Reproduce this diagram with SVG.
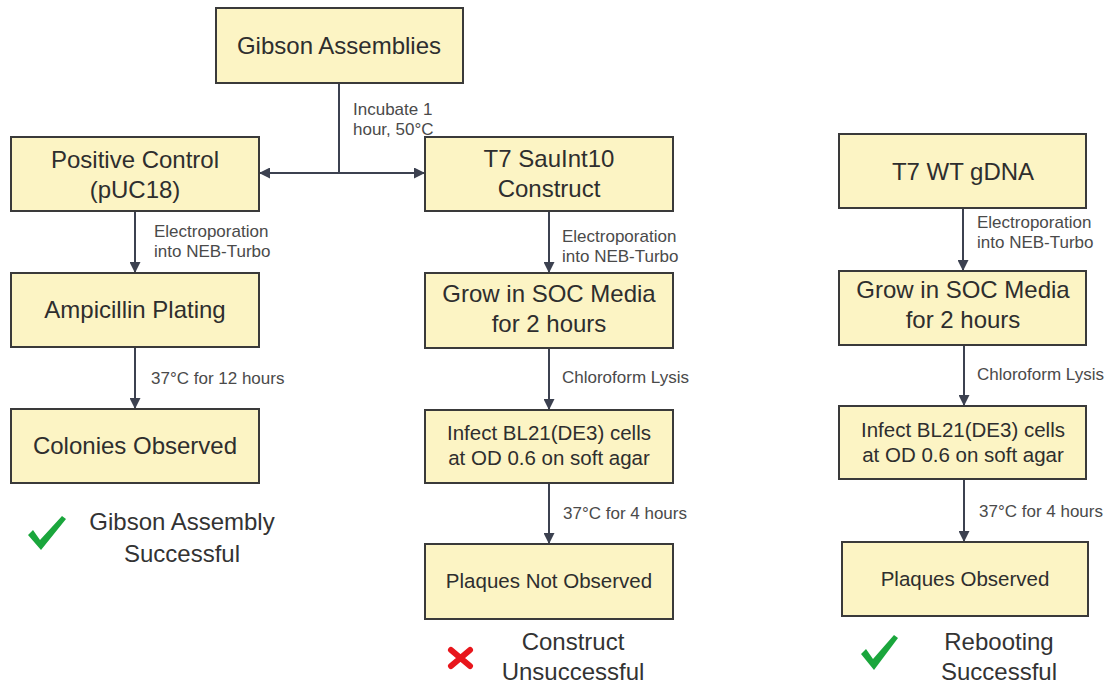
<svg xmlns="http://www.w3.org/2000/svg" width="1112" height="686" viewBox="0 0 1112 686">
<style>
.box{fill:#fcf4c4;stroke:#3a3a3a;stroke-width:2}
.t{font-family:"Liberation Sans",Arial,sans-serif;font-size:24px;fill:#2e2e2e;text-anchor:middle}
.ts{font-family:"Liberation Sans",Arial,sans-serif;font-size:20.5px;fill:#2e2e2e;text-anchor:middle}
.lbl{font-family:"Liberation Sans",Arial,sans-serif;font-size:17px;fill:#4a4a4a}
.res{font-family:"Liberation Sans",Arial,sans-serif;font-size:24px;fill:#333333;text-anchor:middle}
.c{stroke:#3c4150;stroke-width:2;fill:none}
</style>
<defs>
<marker id="ah" viewBox="0 0 10 10" refX="10" refY="5" markerWidth="11" markerHeight="11" markerUnits="userSpaceOnUse" orient="auto-start-reverse">
<path d="M0,0 L10,5 L0,10 z" fill="#3c4150"/>
</marker>
</defs>
<rect width="1112" height="686" fill="#ffffff"/>
<g id="connectors">
<line class="c" x1="339" y1="83" x2="339" y2="173"/>
<path class="c" d="M259,173 H425" marker-start="url(#ah)" marker-end="url(#ah)"/>
<line class="c" x1="135" y1="211" x2="135" y2="273" marker-end="url(#ah)"/>
<line class="c" x1="135" y1="347" x2="135" y2="409" marker-end="url(#ah)"/>
<line class="c" x1="549" y1="211" x2="549" y2="273" marker-end="url(#ah)"/>
<line class="c" x1="549" y1="348" x2="549" y2="410" marker-end="url(#ah)"/>
<line class="c" x1="549" y1="483" x2="549" y2="544" marker-end="url(#ah)"/>
<line class="c" x1="963" y1="208" x2="963" y2="271" marker-end="url(#ah)"/>
<line class="c" x1="964" y1="345" x2="964" y2="406" marker-end="url(#ah)"/>
<line class="c" x1="964" y1="479" x2="964" y2="542" marker-end="url(#ah)"/>
<text class="lbl" x="353" y="115">Incubate 1</text>
<text class="lbl" x="353" y="135">hour, 50°C</text>
<text class="lbl" x="154" y="237">Electroporation</text>
<text class="lbl" x="154" y="257">into NEB-Turbo</text>
<text class="lbl" x="151" y="384">37°C for 12 hours</text>
<text class="lbl" x="562" y="242">Electroporation</text>
<text class="lbl" x="562" y="262">into NEB-Turbo</text>
<text class="lbl" x="562" y="383">Chloroform Lysis</text>
<text class="lbl" x="563" y="519">37°C for 4 hours</text>
<text class="lbl" x="977" y="228">Electroporation</text>
<text class="lbl" x="977" y="248">into NEB-Turbo</text>
<text class="lbl" x="977" y="380">Chloroform Lysis</text>
<text class="lbl" x="979" y="517">37°C for 4 hours</text>
</g>
<g id="gibson">
<rect class="box" x="216" y="8" width="247" height="75"/>
<text class="t" x="339" y="54">Gibson Assemblies</text>
</g>
<g id="positive-control">
<rect class="box" x="11" y="137" width="248" height="74"/>
<text class="t" x="135" y="168">Positive Control</text>
<text class="t" x="135" y="198">(pUC18)</text>
</g>
<g id="construct">
<rect class="box" x="425" y="137" width="248" height="74"/>
<text class="t" x="549" y="167">T7 SauInt10</text>
<text class="t" x="549" y="197">Construct</text>
</g>
<g id="t7wt">
<rect class="box" x="839" y="134" width="247" height="74"/>
<text class="t" x="963" y="180">T7 WT gDNA</text>
</g>
<g id="ampicillin">
<rect class="box" x="11" y="273" width="248" height="74"/>
<text class="t" x="135" y="318">Ampicillin Plating</text>
</g>
<g id="grow-mid">
<rect class="box" x="425" y="273" width="248" height="75"/>
<text class="t" x="549" y="302">Grow in SOC Media</text>
<text class="t" x="549" y="332">for 2 hours</text>
</g>
<g id="grow-right">
<rect class="box" x="839" y="271" width="247" height="74"/>
<text class="t" x="963" y="298">Grow in SOC Media</text>
<text class="t" x="963" y="328">for 2 hours</text>
</g>
<g id="colonies">
<rect class="box" x="11" y="409" width="248" height="74"/>
<text class="t" x="135" y="454">Colonies Observed</text>
</g>
<g id="infect-mid">
<rect class="box" x="425" y="410" width="248" height="73"/>
<text class="ts" x="549" y="440">Infect BL21(DE3) cells</text>
<text class="ts" x="549" y="465">at OD 0.6 on soft agar</text>
</g>
<g id="infect-right">
<rect class="box" x="839" y="406" width="247" height="73"/>
<text class="ts" x="963" y="437">Infect BL21(DE3) cells</text>
<text class="ts" x="963" y="462">at OD 0.6 on soft agar</text>
</g>
<g id="plaques-not">
<rect class="box" x="425" y="544" width="248" height="75"/>
<text class="ts" x="549" y="588">Plaques Not Observed</text>
</g>
<g id="plaques">
<rect class="box" x="842" y="542" width="246" height="74"/>
<text class="ts" x="965" y="586">Plaques Observed</text>
</g>
<g id="result-gibson">
<path d="M28,535 L33,530 L40,540 L62,516 L66,519 L41,550 Z" fill="#1aa63c"/>
<text class="res" x="182" y="530">Gibson Assembly</text>
<text class="res" x="182" y="562">Successful</text>
</g>
<g id="result-construct">
<path d="M451,650 L470,666 M470,650 L451,666" stroke="#e8161c" stroke-width="6" stroke-linecap="round" fill="none"/>
<text class="res" x="573" y="650">Construct</text>
<text class="res" x="573" y="680">Unsuccessful</text>
</g>
<g id="result-reboot">
<path d="M861,654 L866,649 L873,659 L894,635 L898,638 L874,670 Z" fill="#1aa63c"/>
<text class="res" x="999" y="650">Rebooting</text>
<text class="res" x="999" y="680">Successful</text>
</g>
</svg>
